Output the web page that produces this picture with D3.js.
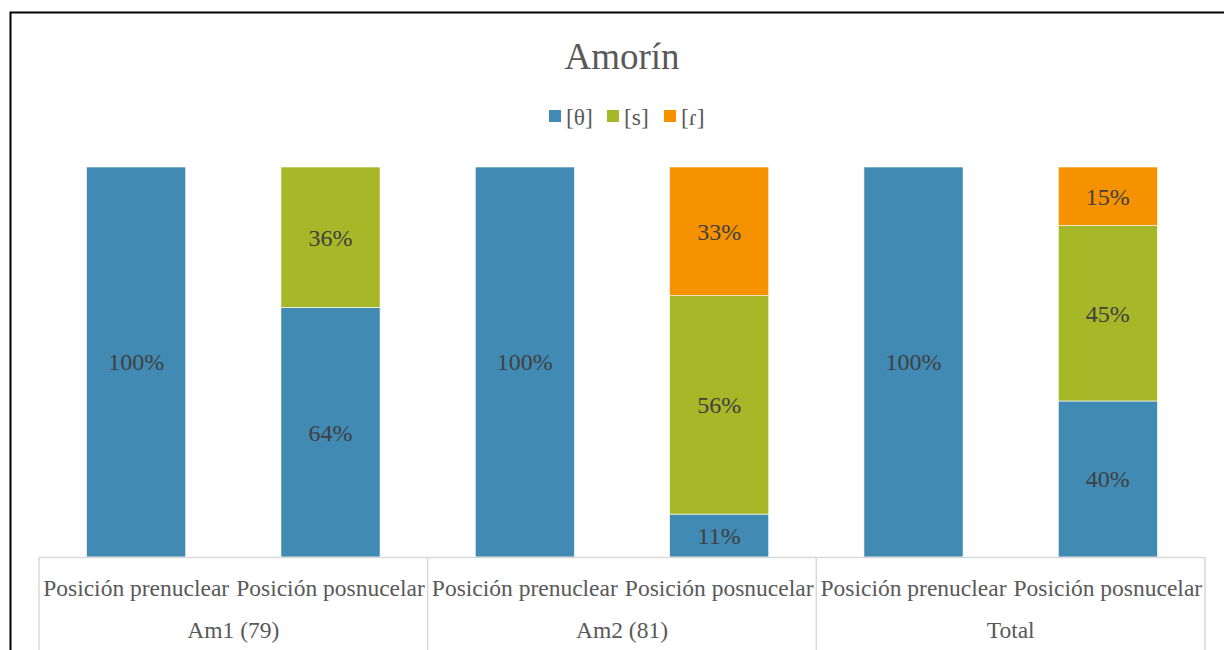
<!DOCTYPE html>
<html>
<head>
<meta charset="utf-8">
<script src="https://d3js.org/d3.v7.min.js"></script>
<style>
    body { margin: 0; background: #fff; }
    text { font-family: "Liberation Serif", "Times New Roman", serif; }
</style>
</head>
<body>
<svg id="chart" width="1224" height="650"></svg>
<script>
// data
var groups = ["Am1 (79)", "Am2 (81)", "Total"];
var positions = ["Posición prenuclear", "Posición posnucelar"];
var seriesNames = ["[θ]", "[s]", "[ɾ]"];
var seriesColors = ["#418AB3", "#A6B727", "#F69200"];
// one entry per bar (group x position), values in %
var theta = [100, 64, 100, 11, 100, 40];
var sibil = [0, 36, 0, 56, 0, 45];
var tap   = [0, 0, 0, 33, 0, 15];

var bars = [];
groups.forEach(function(g, gi) {
    positions.forEach(function(p, pi) {
        var i = gi * positions.length + pi;
        bars.push({ key: i, group: g, pos: p, vals: [theta[i], sibil[i], tap[i]] });
    });
});

var margin = {top: 167, right: 19, bottom: 93, left: 39},
    width = 1224 - margin.left - margin.right,
    height = 650 - margin.top - margin.bottom;

var svg = d3.select("#chart");

// outer frame
svg.append("rect")
    .attr("x", 10.5).attr("y", 12.5)
    .attr("width", 1240).attr("height", 700)
    .attr("fill", "none")
    .attr("stroke", "#000")
    .attr("stroke-width", 2);

var g = svg.append("g")
    .attr("transform", "translate(" + margin.left + "," + margin.top + ")");

var x = d3.scaleBand()
    .domain(bars.map(function(d) { return d.key; }))
    .range([0, width])
    .paddingInner(0.49)
    .paddingOuter(0.245);

var y = d3.scaleLinear()
    .domain([0, 100])
    .range([height, 0]);

var stack = d3.stack()
    .keys([0, 1, 2])
    .value(function(d, k) { return d.vals[k]; });
var layers = stack(bars);

var layer = g.selectAll(".layer")
    .data(layers)
    .enter().append("g")
    .attr("fill", function(d, i) { return seriesColors[i]; });

layer.selectAll("rect")
    .data(function(d) { return d.filter(function(s) { return s[1] - s[0] > 0; }); })
    .enter().append("rect")
    .attr("x", function(d) { return x(d.data.key); })
    .attr("y", function(d) { return y(d[1]); })
    .attr("width", x.bandwidth())
    .attr("height", function(d) { return y(d[0]) - y(d[1]); })
    .attr("stroke", "#fff")
    .attr("stroke-width", 0.6);

layer.selectAll("text")
    .data(function(d) { return d.filter(function(s) { return s[1] - s[0] > 0; }); })
    .enter().append("text")
    .attr("x", function(d) { return x(d.data.key) + x.bandwidth() / 2; })
    .attr("y", function(d) { return (y(d[0]) + y(d[1])) / 2; })
    .attr("dy", "0.35em")
    .attr("text-anchor", "middle")
    .attr("fill", "#404040")
    .style("font-size", "24px")
    .text(function(d) { return (d[1] - d[0]) + "%"; });

// category axis: horizontal line + separators + two label rows
var axis = g.append("g").attr("transform", "translate(0," + height + ")");

axis.append("line")
    .attr("x1", 0).attr("x2", width)
    .attr("y1", 0.5).attr("y2", 0.5)
    .attr("stroke", "#d9d9d9").attr("stroke-width", 1.5);

var groupWidth = width / groups.length;
d3.range(groups.length + 1).forEach(function(i) {
    axis.append("line")
        .attr("x1", i * groupWidth).attr("x2", i * groupWidth)
        .attr("y1", 0).attr("y2", 100)
        .attr("stroke", "#d9d9d9").attr("stroke-width", 1.5);
});

axis.selectAll(".sub")
    .data(bars)
    .enter().append("text")
    .attr("x", function(d) { return x(d.key) + x.bandwidth() / 2; })
    .attr("y", 31)
    .attr("dy", "0.35em")
    .attr("text-anchor", "middle")
    .attr("fill", "#595959")
    .style("font-size", "23.5px")
    .text(function(d) { return d.pos; });

axis.selectAll(".grp")
    .data(groups)
    .enter().append("text")
    .attr("x", function(d, i) { return (i + 0.5) * groupWidth; })
    .attr("y", 73)
    .attr("dy", "0.35em")
    .attr("text-anchor", "middle")
    .attr("fill", "#595959")
    .style("font-size", "23.5px")
    .text(function(d) { return d; });

// title
svg.append("text")
    .attr("x", 622).attr("y", 56)
    .attr("dy", "0.35em")
    .attr("text-anchor", "middle")
    .attr("fill", "#595959")
    .style("font-size", "37px")
    .text("Amorín");

// legend
var legendX = [549, 607, 664];
var legend = svg.selectAll(".legend")
    .data(seriesNames)
    .enter().append("g")
    .attr("transform", function(d, i) { return "translate(" + legendX[i] + ",110)"; });

legend.append("rect")
    .attr("width", 12).attr("height", 12)
    .attr("fill", function(d, i) { return seriesColors[i]; });

legend.append("text")
    .attr("x", 17).attr("y", 7)
    .attr("dy", "0.35em")
    .attr("fill", "#595959")
    .style("font-size", "23.5px")
    .text(function(d) { return d; });
</script>
</body>
</html>
